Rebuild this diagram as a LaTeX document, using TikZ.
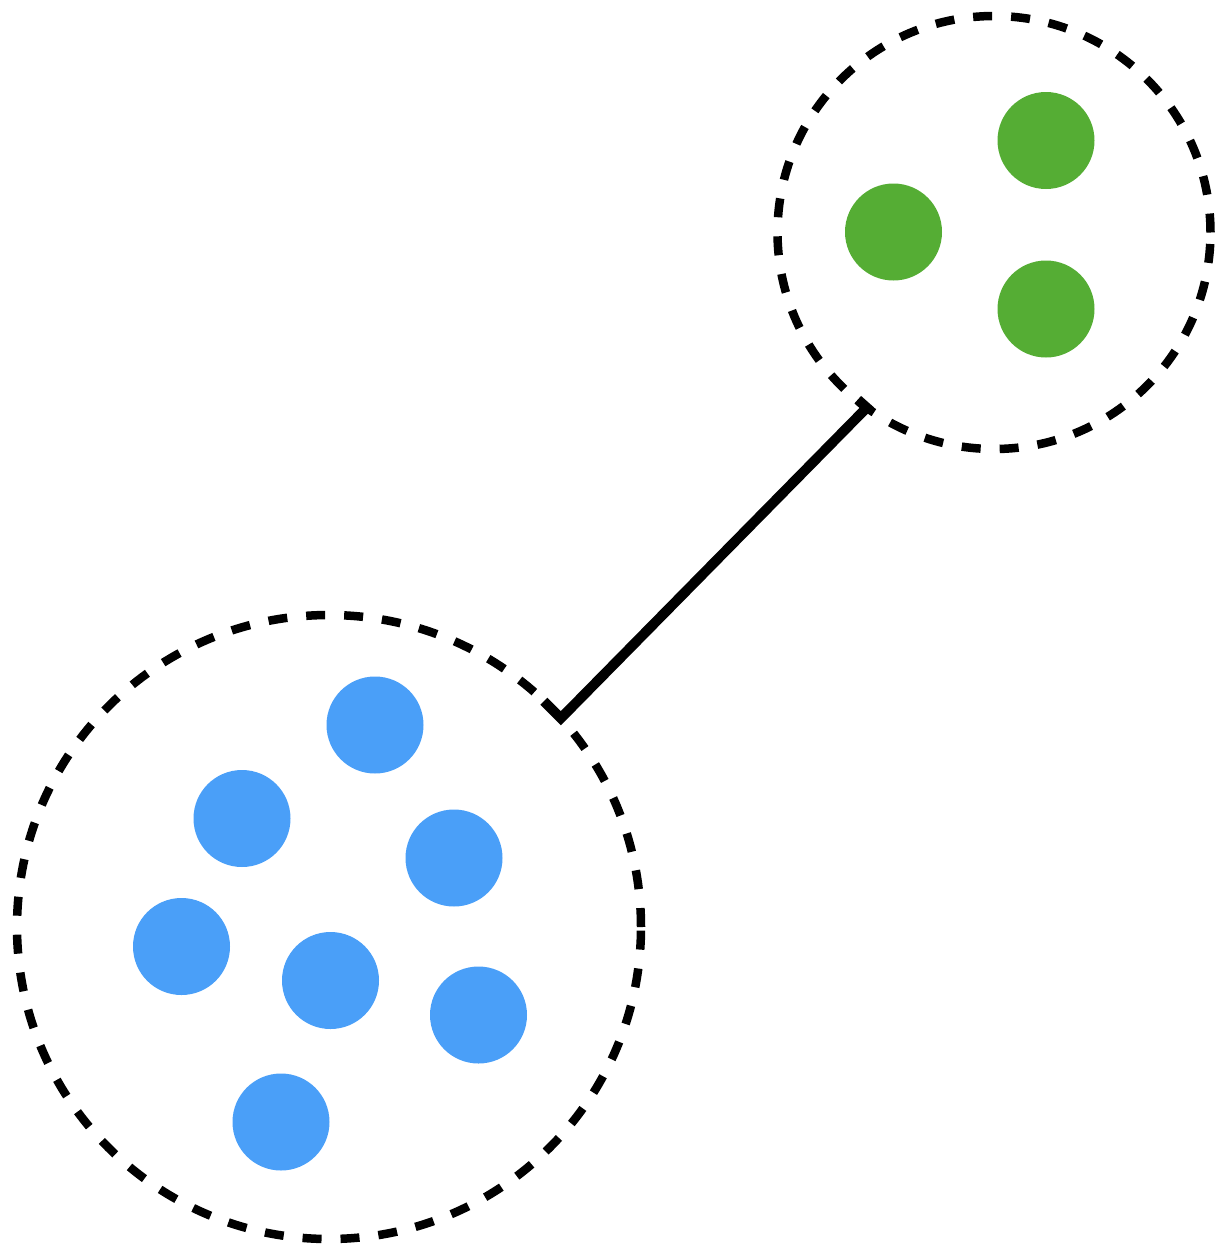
\documentclass[tikz,border=0pt]{standalone}
\usetikzlibrary{calc}
\definecolor{dotgreen}{HTML}{55AD34}
\definecolor{dotblue}{HTML}{4A9FF8}
\begin{document}
\begin{tikzpicture}[x=1pt,y=-1pt,
  group/.style={circle,draw=black,line width=8.5pt,dash pattern=on 19pt off 19pt,inner sep=0pt,outer sep=0pt},
  gdot/.style={circle,fill=dotgreen,inner sep=0pt,outer sep=0pt,minimum size=97pt},
  bdot/.style={circle,fill=dotblue,inner sep=0pt,outer sep=0pt,minimum size=97pt},
  link/.style={draw=black,line width=10pt,line join=miter,line cap=butt}]
\useasboundingbox (0,0) rectangle (1230,1256);
% groups
\node[group,minimum size=433pt] (small) at (994,232.5) {};
\node[group,minimum size=624pt] (big) at (329,927) {};
% green dots
\node[gdot] (g1) at (1046,140.5) {};
\node[gdot] (g2) at (893.5,232) {};
\node[gdot] (g3) at (1046,309) {};
% blue dots
\node[bdot] (b1) at (375,725) {};
\node[bdot] (b2) at (242,818.5) {};
\node[bdot] (b3) at (454,858) {};
\node[bdot] (b4) at (181.5,946.5) {};
\node[bdot] (b5) at (330.5,980.5) {};
\node[bdot] (b6) at (478.5,1015) {};
\node[bdot] (b7) at (281,1122) {};
% connector
\coordinate (pa) at (big.42.6);
\coordinate (pb) at (small.234.2);
\coordinate (ha) at ($(pa)+(-17,-17)$);
\coordinate (hb) at ($(pb)+(-9,-8)$);
\draw[link] (ha) -- (pa) -- (pb) -- (hb);
\end{tikzpicture}
\end{document}
